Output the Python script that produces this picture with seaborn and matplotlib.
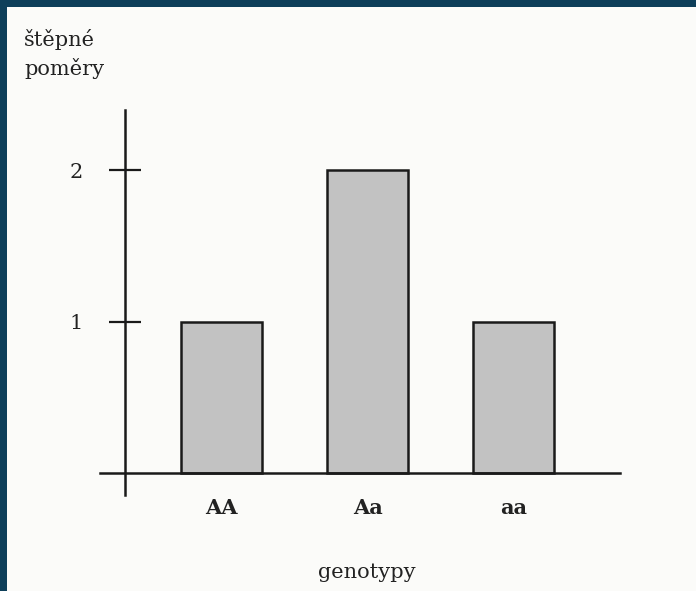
import numpy as np
import pandas as pd
import matplotlib
matplotlib.use("Agg")
import matplotlib.pyplot as plt
from matplotlib.patches import Rectangle
import seaborn as sns

genotypes = ["AA", "Aa", "aa"]
ratios = [1, 2, 1]
y_ticks = [1, 2]

sns.set_style("white")
plt.rcParams["font.family"] = ["DejaVu Serif"]

W, H = 696, 591
fig = plt.figure(figsize=(W / 100, H / 100), dpi=100, facecolor="#0e3f5a")
# scanned page inside the dark frame
fig.patches.append(Rectangle((7 / W, 0), 1, (H - 7) / H, transform=fig.transFigure,
                             facecolor="#fbfbf9", edgecolor="none", zorder=-10))

# axes box in pixels: x 100..620, y 110..495
ax = fig.add_axes([100 / W, (H - 495) / H, 520 / W, 385 / H])
ax.set_facecolor("none")

df = pd.DataFrame({"genotyp": genotypes, "pomer": ratios})
sns.barplot(data=df, x="genotyp", y="pomer", color="#c2c2c2", width=0.555,
            edgecolor="#1a1a1a", linewidth=1.8, saturation=1, ax=ax)

ax.set_xlim(-0.832, 2.729)
ax.set_ylim(-0.145, 2.396)

for s in ["top", "right"]:
    ax.spines[s].set_visible(False)
ax.spines["left"].set_position(("data", -0.661))
ax.spines["bottom"].set_position(("data", 0))
for s in ["left", "bottom"]:
    ax.spines[s].set_color("#1a1a1a")
    ax.spines[s].set_linewidth(1.8)

ax.set_yticks(y_ticks)
ax.set_yticklabels([str(t) for t in y_ticks])
ax.tick_params(axis="y", left=True, direction="inout", length=23, width=1.6,
               color="#1a1a1a", labelsize=15, pad=18.5, labelcolor="#222222")
ax.tick_params(axis="x", bottom=False, length=0, pad=18, labelsize=15,
               labelcolor="#222222")
for lbl in ax.get_xticklabels():
    lbl.set_fontweight("bold")

ax.set_xlabel("genotypy", fontsize=15, color="#222222")
ax.xaxis.set_label_coords(0.513, -0.177)
ax.set_ylabel("štěpné\npoměry", fontsize=15, color="#222222", rotation=0,
              ha="left", va="top", linespacing=1.45)
ax.yaxis.set_label_coords(-0.146, 1.21)

fig.savefig("out.png", dpi=100, facecolor=fig.get_facecolor())
